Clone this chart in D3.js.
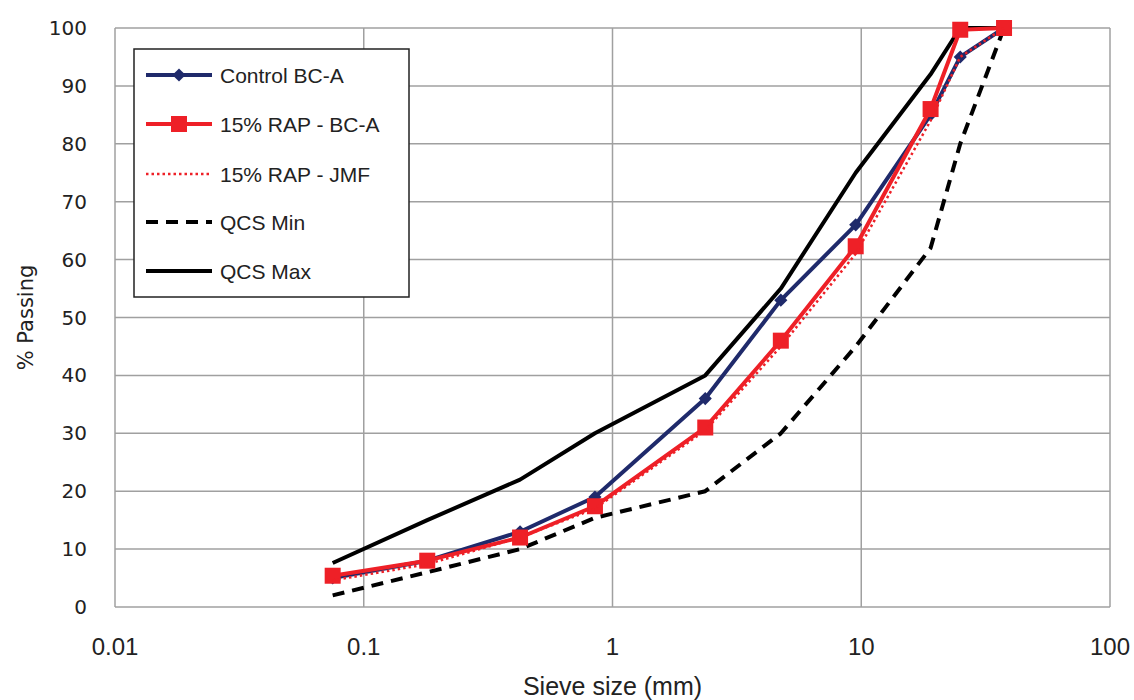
<!DOCTYPE html>
<html>
<head>
<meta charset="utf-8">
<script src="https://cdn.jsdelivr.net/npm/d3@7"></script>
<style>
  body { margin: 0; background: #fff; }
  .grid line { stroke: #a0a0a0; stroke-width: 1.5; }
  .ytick { font-family: "DejaVu Sans", Verdana, sans-serif; font-size: 20px; fill: #222; }
  .xtick { font-family: "Liberation Sans", Arial, sans-serif; font-size: 24px; fill: #222; }
  .title { font-family: "Liberation Sans", Arial, sans-serif; font-size: 25px; fill: #222; }
  .legend text { font-family: "Liberation Sans", Arial, sans-serif; font-size: 21px; fill: #222; }
</style>
</head>
<body>
<div id="chart"></div>
<script>
const sieves = [0.075, 0.18, 0.425, 0.85, 2.36, 4.75, 9.5, 19, 25, 37.5];
const controlBCA = [5, 8, 13, 19, 36, 53, 66, 85, 95, 100];
const rapBCA = [5.4, 8, 12, 17.4, 31, 46, 62.3, 86, 99.7, 100];
const rapJMF = [4.6, 7.4, 12, 17, 30.5, 45, 61, 84, 95, 100];
const qcsMin = [2, 6, 10, 15.4, 20, 30, 45, 62, 80, 100];
const qcsMax = [7.6, 15, 22, 30, 40, 55, 75, 92, 100, 100];
const xTicks = [0.01, 0.1, 1, 10, 100];
const yTicks = d3.range(0, 101, 10);

const series = [
  {name: 'Control BC-A', values: controlBCA, color: '#1f2a6b', width: 4, dash: null, marker: 'diamond'},
  {name: '15% RAP - BC-A', values: rapBCA, color: '#ee2027', width: 4, dash: null, marker: 'square'},
  {name: '15% RAP - JMF', values: rapJMF, color: '#ee2027', width: 2.5, dash: '2.5,3', marker: null},
  {name: 'QCS Min', values: qcsMin, color: '#000', width: 4, dash: '12,8', marker: null},
  {name: 'QCS Max', values: qcsMax, color: '#000', width: 4, dash: null, marker: null}
];

const width = 1134, height = 700;
const margin = {top: 28, right: 24, bottom: 93, left: 115};

const svg = d3.select('#chart').append('svg')
  .attr('width', width)
  .attr('height', height);

const x = d3.scaleLog()
  .domain([0.01, 100])
  .range([margin.left, width - margin.right]);

const y = d3.scaleLinear()
  .domain([0, 100])
  .range([height - margin.bottom, margin.top]);

// grid
const grid = svg.append('g').attr('class', 'grid');
grid.selectAll('line.h')
  .data(yTicks)
  .enter().append('line')
  .attr('class', 'h')
  .attr('x1', x(0.01)).attr('x2', x(100))
  .attr('y1', d => y(d)).attr('y2', d => y(d));
grid.selectAll('line.v')
  .data(xTicks)
  .enter().append('line')
  .attr('class', 'v')
  .attr('x1', d => x(d)).attr('x2', d => x(d))
  .attr('y1', y(0)).attr('y2', y(100));

// tick labels
svg.selectAll('text.ytick')
  .data(yTicks)
  .enter().append('text')
  .attr('class', 'ytick')
  .attr('x', margin.left - 28)
  .attr('y', d => y(d) + 7)
  .style('text-anchor', 'end')
  .text(d => d);

svg.selectAll('text.xtick')
  .data(xTicks)
  .enter().append('text')
  .attr('class', 'xtick')
  .attr('x', d => x(d))
  .attr('y', y(0) + 48)
  .style('text-anchor', 'middle')
  .text(d => d);

svg.append('text')
  .attr('class', 'title')
  .attr('x', (x(0.01) + x(100)) / 2)
  .attr('y', height - 5)
  .style('text-anchor', 'middle')
  .text('Sieve size (mm)');

svg.append('text')
  .attr('class', 'title')
  .style('font-family', '"DejaVu Sans", sans-serif')
  .style('font-size', '21px')
  .attr('transform', `translate(33, ${y(50)}) rotate(-90)`)
  .style('text-anchor', 'middle')
  .text('% Passing');

const line = d3.line()
  .x(d => x(d[0]))
  .y(d => y(d[1]));

// QCS lines first, then the mixes on top
const drawOrder = [4, 3, 0, 1, 2];
drawOrder.forEach(i => {
  const s = series[i];
  const pts = sieves.map((v, j) => [v, s.values[j]]);
  svg.append('path')
    .datum(pts)
    .attr('fill', 'none')
    .attr('stroke', s.color)
    .attr('stroke-width', s.width)
    .attr('stroke-dasharray', s.dash)
    .attr('stroke-linejoin', 'round')
    .attr('d', line);
  if (s.marker == 'diamond') {
    svg.selectAll(null)
      .data(pts).enter().append('path')
      .attr('d', d3.symbol(d3.symbolDiamond2, 110)())
      .attr('transform', d => `translate(${x(d[0])},${y(d[1])})`)
      .attr('fill', s.color);
  } else if (s.marker == 'square') {
    svg.selectAll(null)
      .data(pts).enter().append('rect')
      .attr('x', d => x(d[0]) - 8).attr('y', d => y(d[1]) - 8)
      .attr('width', 16).attr('height', 16)
      .attr('fill', s.color);
  }
});

// legend
const legend = svg.append('g').attr('class', 'legend');
legend.append('rect')
  .attr('x', 134).attr('y', 49)
  .attr('width', 275).attr('height', 248)
  .attr('fill', '#fff')
  .attr('stroke', '#222')
  .attr('stroke-width', 1.5);

const ly = [75, 124, 174, 222, 271];
series.forEach((s, i) => {
  const g = legend.append('g').attr('transform', `translate(0, ${ly[i]})`);
  g.append('line')
    .attr('x1', 146).attr('x2', 212)
    .attr('stroke', s.color)
    .attr('stroke-width', s.width)
    .attr('stroke-dasharray', s.dash);
  if (s.marker == 'diamond') {
    g.append('path')
      .attr('d', d3.symbol(d3.symbolDiamond2, 110)())
      .attr('transform', 'translate(179,0)')
      .attr('fill', s.color);
  } else if (s.marker == 'square') {
    g.append('rect')
      .attr('x', 171).attr('y', -8).attr('width', 16).attr('height', 16)
      .attr('fill', s.color);
  }
  g.append('text')
    .attr('x', 220).attr('y', 8)
    .text(s.name);
});
</script>
</body>
</html>
